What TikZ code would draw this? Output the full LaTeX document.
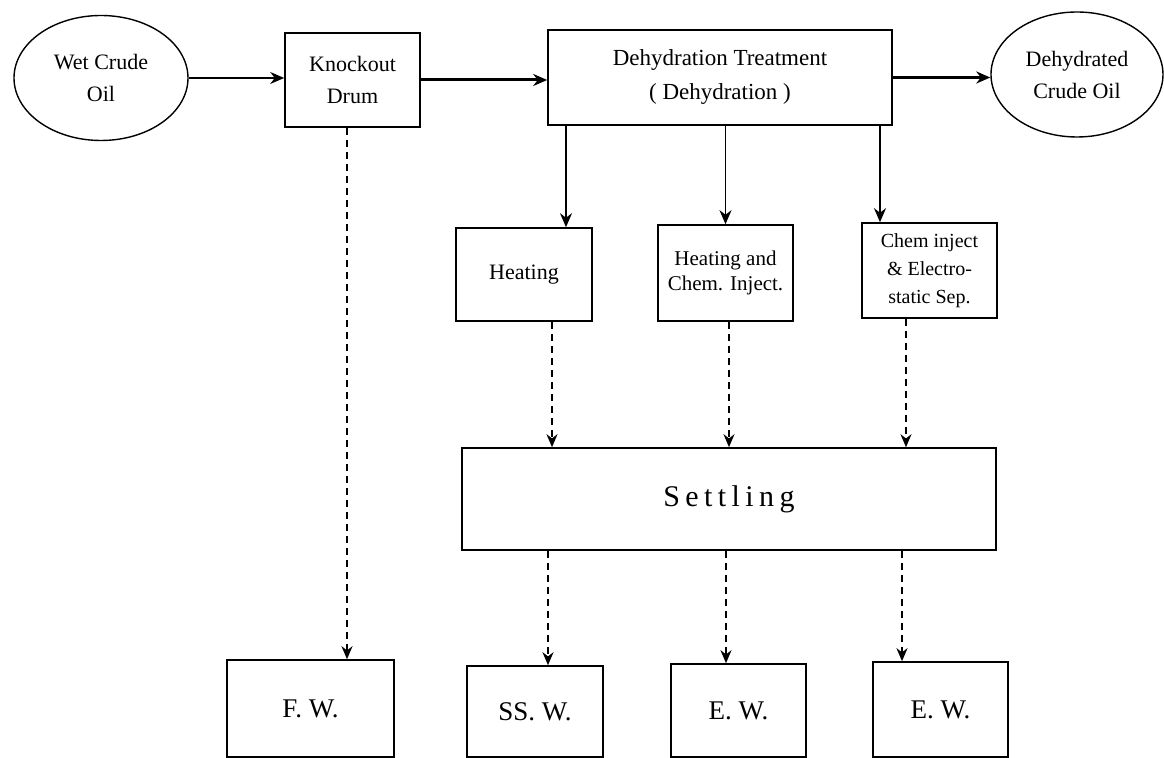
\documentclass[tikz,border=0pt]{standalone}
\usepackage{fontspec}
\setmainfont{Liberation Serif}
\usetikzlibrary{shapes.geometric}
\usetikzlibrary{arrows.meta}

\begin{document}
\begin{tikzpicture}[x=0.5pt,y=-0.5pt,
	box/.style={draw,line width=0.8pt,inner sep=1pt,align=center,font=\fontsize{11}{16}\selectfont},
	oval/.style={draw,ellipse,line width=0.7pt,inner sep=0pt,align=center,minimum width=87pt,minimum height=62.5pt,font=\fontsize{11}{16}\selectfont},
	outbox/.style={box,font=\fontsize{13.5}{16}\selectfont},
	flow/.style={-{Stealth[length=7pt,width=6pt]}},
	waste/.style={-{Stealth[length=6.5pt,width=5.5pt]},dash pattern=on 3.5pt off 2.5pt,line width=0.8pt}]
	\useasboundingbox (0,0) rectangle (1164,758);

	% (top line)
	\node[oval] (wet) at (101,78) {Wet Crude\\Oil};
	\node[box,minimum width=67.5pt,minimum height=47pt] (kd) at (352.5,80) {Knockout\\Drum};
	\node[box,minimum width=172pt,minimum height=47.5pt,font=\fontsize{11.5}{17}\selectfont] (dt) at (720,77.5) {Dehydration Treatment\\( Dehydration )};
	\node[oval,minimum width=86pt] (dco) at (1077,74.5) {Dehydrated\\Crude Oil};
	\draw[flow,line width=0.6pt] (wet.east) -- (wet.east -| kd.west);
	\draw[flow,line width=1.5pt] (kd.east) -- (kd.east -| dt.west);
	\draw[flow,line width=1.5pt] (dt.east) -- (dt.east -| dco.west);

	% (treatments)
	\node[box,minimum width=68pt,minimum height=46.5pt] (heat) at (524,274.5) {Heating};
	\node[box,minimum width=67.5pt,minimum height=48pt,font=\fontsize{10.5}{12.5}\selectfont] (hci) at (725.5,273) {Heating and\\Chem. Inject.};
	\node[box,minimum width=67.5pt,minimum height=47.5pt,font=\fontsize{10}{14}\selectfont] (cie) at (929.5,270.5) {Chem inject\\\& Electro-\\static Sep.};
	\draw[flow,line width=1pt] ([xshift=21pt]heat.north |- dt.south) -- ([xshift=21pt]heat.north);
	\draw[flow,line width=0.8pt] (hci.north |- dt.south) -- (hci.north);
	\draw[flow,line width=1pt] ([xshift=-24.75pt]cie.north |- dt.south) -- ([xshift=-24.75pt]cie.north);

	% (settling)
	\node[box,minimum width=267pt,minimum height=51pt,font=\fontsize{15}{18}\selectfont] (settle) at (729,499) {\addfontfeature{LetterSpace=18}Settling};
	\draw[waste,line width=1pt] ([xshift=14pt]heat.south) -- ([xshift=14pt]heat.south |- settle.north);
	\draw[waste] ([xshift=1.75pt]hci.south) -- ([xshift=1.75pt]hci.south |- settle.north);
	\draw[waste,line width=0.6pt] ([xshift=-11.75pt]cie.south) -- ([xshift=-11.75pt]cie.south |- settle.north);

	% (water outlets)
	\node[outbox,minimum width=83.5pt,minimum height=48.5pt] (fw) at (310.5,708.5) {F. W.};
	\node[outbox,minimum width=68pt,minimum height=45.5pt] (ssw) at (535,711.5) {SS. W.};
	\node[outbox,minimum width=67.5pt,minimum height=46.5pt] (ewa) at (738.5,710.5) {E. W.};
	\node[outbox,minimum width=67.5pt,minimum height=47.5pt] (ewb) at (940.5,709.5) {E. W.};
	\draw[waste] ([xshift=18.25pt]fw.north |- kd.south) -- ([xshift=18.25pt]fw.north);
	\draw[waste] ([xshift=6.5pt]ssw.north |- settle.south) -- ([xshift=6.5pt]ssw.north);
	\draw[waste] ([xshift=-6.25pt]ewa.north |- settle.south) -- ([xshift=-6.25pt]ewa.north);
	\draw[waste,line width=1pt] ([xshift=-19.25pt]ewb.north |- settle.south) -- ([xshift=-19.25pt]ewb.north);

\end{tikzpicture}
\end{document}
